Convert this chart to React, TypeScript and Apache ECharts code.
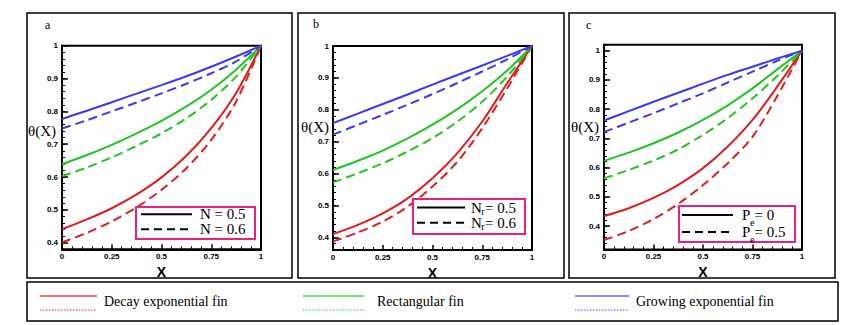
import React, { useEffect, useRef } from 'react';
import * as echarts from 'echarts';

// ---------- data ----------
const xValues = [0, 0.125, 0.25, 0.375, 0.5, 0.625, 0.75, 0.875, 1];
const shapeNames = ['Decay exponential fin', 'Rectangular fin', 'Growing exponential fin'];
const panelLetters = ['a', 'b', 'c'];
const legendMain = ['N', 'N', 'P'];
const legendSub = ['', 'r', 'e'];
const legendSolidValue = ['= 0.5', '= 0.5', '= 0'];
const legendDashValue = ['= 0.6', '= 0.6', '= 0.5'];

// panel a
const decaySolidA = [0.441, 0.471, 0.505, 0.547, 0.599, 0.665, 0.749, 0.856, 1];
const decayDashA = [0.401, 0.430, 0.465, 0.508, 0.561, 0.627, 0.713, 0.830, 1];
const rectSolidA = [0.639, 0.667, 0.698, 0.733, 0.771, 0.815, 0.866, 0.927, 1];
const rectDashA = [0.603, 0.629, 0.660, 0.695, 0.733, 0.779, 0.835, 0.906, 1];
const growSolidA = [0.777, 0.802, 0.828, 0.854, 0.880, 0.907, 0.936, 0.967, 1];
const growDashA = [0.748, 0.773, 0.800, 0.827, 0.855, 0.884, 0.916, 0.952, 1];
// panel b
const decaySolidB = [0.410, 0.439, 0.475, 0.522, 0.585, 0.664, 0.763, 0.883, 1];
const decayDashB = [0.387, 0.415, 0.449, 0.496, 0.559, 0.637, 0.742, 0.867, 1];
const rectSolidB = [0.611, 0.640, 0.672, 0.710, 0.753, 0.802, 0.858, 0.923, 1];
const rectDashB = [0.572, 0.601, 0.632, 0.669, 0.711, 0.763, 0.825, 0.904, 1];
const growSolidB = [0.758, 0.788, 0.818, 0.848, 0.879, 0.909, 0.939, 0.969, 1];
const growDashB = [0.722, 0.753, 0.784, 0.816, 0.849, 0.884, 0.920, 0.958, 1];
// panel c
const decaySolidC = [0.434, 0.461, 0.496, 0.541, 0.598, 0.672, 0.763, 0.877, 1];
const decayDashC = [0.352, 0.383, 0.424, 0.476, 0.540, 0.615, 0.705, 0.845, 1];
const rectSolidC = [0.623, 0.651, 0.683, 0.720, 0.763, 0.813, 0.871, 0.936, 1];
const rectDashC = [0.563, 0.592, 0.624, 0.662, 0.712, 0.769, 0.837, 0.913, 1];
const growSolidC = [0.761, 0.793, 0.825, 0.856, 0.887, 0.917, 0.945, 0.973, 1];
const growDashC = [0.721, 0.754, 0.786, 0.820, 0.854, 0.891, 0.928, 0.965, 1];

const panelSeries = [
  [[decaySolidA, decayDashA], [rectSolidA, rectDashA], [growSolidA, growDashA]],
  [[decaySolidB, decayDashB], [rectSolidB, rectDashB], [growSolidB, growDashB]],
  [[decaySolidC, decayDashC], [rectSolidC, rectDashC], [growSolidC, growDashC]],
];

// ---------- layout / style ----------
const curveColors = ['#dc1e1e', '#22c422', '#3a3af2'];
const legendSolidColors = ['#ec7272', '#74e474', '#8c8cff'];
const legendDotColors = ['#e03030', '#3cc03c', '#4c4cff'];
const pink = '#e8207e';
const tickFont = 'Liberation Sans';
const serif = 'Liberation Serif';

const layouts = [
  { L: 62, R: 261, T: 45.7, B: 249.3, yMin: 0.38, yMax: 1.0, box: [27, 13, 265, 265], letter: [45, 25], theta: [42, 131],
    lb: [136, 207, 119, 32], ll: [141, 192], ly: [214.3, 229.3], tx: 200, subDy: 0 },
  { L: 333, R: 532, T: 46, B: 250, yMin: 0.36, yMax: 1.0, box: [298, 13, 266, 265], letter: [313, 24], theta: [315, 127],
    lb: [413, 199, 112, 35], ll: [417, 465], ly: [207.5, 222.7], tx: 471, subDy: 4 },
  { L: 604, R: 802, T: 44.8, B: 249.4, yMin: 0.32, yMax: 1.02, box: [569, 13, 266, 265], letter: [586, 25], theta: [585, 126.5],
    lb: [679, 206, 116, 36], ll: [682, 733], ly: [215, 232], tx: 742, subDy: 7.5 },
];

const bottomLegend = { box: [27, 282, 811, 39], lineX: [[40, 97], [303, 364], [575, 629]], textX: [104, 377, 636], ySolid: 296, yDot: 310, yText: 301 };

function txt(text: string, x: number, y: number, font: string, align = 'left', vAlign = 'middle', z = 50) {
  return {
    type: 'text', x, y, z,
    style: { text, font, fill: '#000', align, verticalAlign: vAlign, textAlign: align, textVerticalAlign: vAlign },
  };
}

function buildOption() {
  const grid: any[] = [];
  const xAxis: any[] = [];
  const yAxis: any[] = [];
  const series: any[] = [];
  const graphic: any[] = [];

  layouts.forEach((p, i) => {
    const h = p.B - p.T;
    const py = (v: number) => p.T + ((p.yMax - v) / (p.yMax - p.yMin)) * h;
    grid.push({ left: p.L, top: p.T, width: p.R - p.L, height: h, show: true, borderColor: '#000', borderWidth: 2,
      backgroundColor: 'rgba(0,0,0,0)', containLabel: false, outerBoundsMode: 'none' });
    const t2 = py(1.0);
    const b2 = py(0.4);
    grid.push({ left: p.L, top: t2, width: p.R - p.L, height: b2 - t2, show: false, containLabel: false, outerBoundsMode: 'none' });

    xAxis.push({
      type: 'value', gridIndex: 2 * i, min: 0, max: 1, interval: 0.25,
      axisLine: { show: true, lineStyle: { color: '#000', width: 2 } },
      axisTick: { show: true, inside: true, length: 5, lineStyle: { color: '#000', width: 1.5 } },
      minorTick: { show: true, splitNumber: 5, length: 3, lineStyle: { color: '#000', width: 1 } },
      splitLine: { show: false },
      axisLabel: { show: true, margin: 3, color: '#000', fontSize: 8, fontWeight: 'bold', fontFamily: tickFont,
        formatter: (v: number) => String(v) },
      name: 'X', nameLocation: 'middle', nameGap: 9,
      nameTextStyle: { color: '#000', fontSize: 14, fontWeight: 'bold', fontFamily: tickFont },
    });
    xAxis.push({ type: 'value', gridIndex: 2 * i + 1, min: 0, max: 1, show: false });

    yAxis.push({
      type: 'value', gridIndex: 2 * i, min: p.yMin, max: p.yMax, interval: 0.02,
      axisLine: { show: true, lineStyle: { color: '#000', width: 2 } },
      axisTick: { show: true, inside: true, length: 3, lineStyle: { color: '#000', width: 1 } },
      splitLine: { show: false },
      axisLabel: { show: false },
    });
    yAxis.push({
      type: 'value', gridIndex: 2 * i + 1, min: 0.4, max: 1.0, interval: 0.1,
      axisLine: { show: false },
      axisTick: { show: true, inside: true, length: 6, lineStyle: { color: '#000', width: 1.5 } },
      splitLine: { show: false },
      axisLabel: { show: true, margin: 4, color: '#000', fontSize: 8, fontWeight: 'bold', fontFamily: tickFont },
    });

    panelSeries[i].forEach((pair, s) => {
      pair.forEach((vals, k) => {
        series.push({
          type: 'line', name: shapeNames[s], xAxisIndex: 2 * i, yAxisIndex: 2 * i,
          data: xValues.map((x, j) => [x, vals[j]]),
          smooth: 0.3, showSymbol: false, symbol: 'none', silent: true,
          lineStyle: { color: curveColors[s], width: 2, type: k === 0 ? 'solid' : [9, 5] },
          z: 3,
        });
      });
    });

    graphic.push({ type: 'rect', z: 1, shape: { x: p.box[0], y: p.box[1], width: p.box[2], height: p.box[3] },
      style: { fill: 'none', stroke: '#000', lineWidth: 1.5 } });
    graphic.push(txt(panelLetters[i], p.letter[0], p.letter[1], `12px "${serif}"`));
    graphic.push(txt('θ(X)', p.theta[0], p.theta[1], `15px "${serif}"`, 'center'));

    graphic.push({ type: 'rect', z: 60, shape: { x: p.lb[0], y: p.lb[1], width: p.lb[2], height: p.lb[3] },
      style: { fill: '#fff', stroke: pink, lineWidth: 2 } });
    graphic.push({ type: 'line', z: 61, shape: { x1: p.ll[0], y1: p.ly[0], x2: p.ll[1], y2: p.ly[0] },
      style: { stroke: '#000', lineWidth: 2 } });
    graphic.push({ type: 'line', z: 61, shape: { x1: p.ll[0], y1: p.ly[1], x2: p.ll[1], y2: p.ly[1] },
      style: { stroke: '#000', lineWidth: 2, lineDash: [8, 5] } });
    const mainFont = `15px "${serif}"`;
    const subFont = `10px "${serif}"`;
    [legendSolidValue[i], legendDashValue[i]].forEach((val, r) => {
      const y = p.ly[r];
      if (legendSub[i]) {
        graphic.push(txt(legendMain[i], p.tx, y, mainFont, 'left', 'middle', 62));
        const subX = i === 1 ? p.tx + 10.2 : p.tx + 8;
        graphic.push(txt(legendSub[i], subX, y + p.subDy, subFont, 'left', 'middle', 62));
        const valX = i === 1 ? p.tx + 14 : p.tx + 12.5;
        graphic.push(txt(val, valX, y, mainFont, 'left', 'middle', 62));
      } else {
        graphic.push(txt(`${legendMain[i]} ${val}`, p.tx, y, mainFont, 'left', 'middle', 62));
      }
    });
  });

  const bl = bottomLegend;
  graphic.push({ type: 'rect', z: 1, shape: { x: bl.box[0], y: bl.box[1], width: bl.box[2], height: bl.box[3] },
    style: { fill: 'none', stroke: '#000', lineWidth: 1.5 } });
  shapeNames.forEach((name, s) => {
    const [x1, x2] = bl.lineX[s];
    graphic.push({ type: 'line', z: 5, shape: { x1, y1: bl.ySolid, x2, y2: bl.ySolid },
      style: { stroke: legendSolidColors[s], lineWidth: 2 } });
    graphic.push({ type: 'line', z: 5, shape: { x1, y1: bl.yDot, x2, y2: bl.yDot },
      style: { stroke: legendDotColors[s], lineWidth: 1, lineDash: [1.5, 1.5] } });
    graphic.push(txt(name, bl.textX[s], bl.yText, `14px "${serif}"`));
  });

  return {
    animation: false,
    backgroundColor: '#fff',
    grid, xAxis, yAxis, series, graphic,
  };
}

export default function App() {
  const ref = useRef<HTMLDivElement>(null);
  useEffect(() => {
    if (!ref.current) return;
    const chart = echarts.init(ref.current, undefined, { renderer: 'svg' });
    chart.setOption(buildOption() as any);
    return () => chart.dispose();
  }, []);
  return (
    <div ref={ref} style={{ position: 'fixed', left: 0, top: 0, width: 867, height: 325, background: '#fff' }} />
  );
}
